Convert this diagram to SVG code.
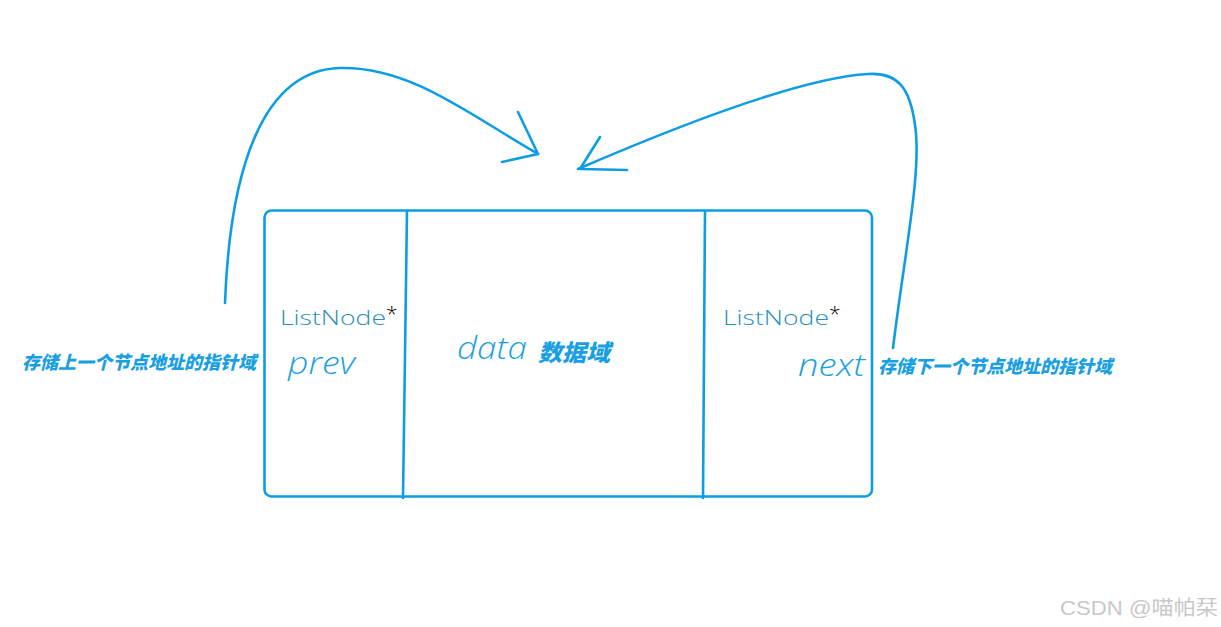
<svg xmlns="http://www.w3.org/2000/svg" width="1221" height="627" viewBox="0 0 1221 627">
<style>
.ln{fill:none;stroke:#0d9de3;stroke-width:2.6;stroke-linecap:round;stroke-linejoin:round}
.typ{font-family:"Open Sans","Liberation Sans",sans-serif;font-weight:300;font-size:21px;fill:#2a90b8}
.star{fill:#000}
.hand{font-family:"Open Sans","Liberation Sans",sans-serif;font-style:italic;font-weight:300;font-size:32px;fill:#1a9fe2}
.cn{font-family:"Noto Sans CJK SC","Liberation Sans",sans-serif;font-style:italic;font-weight:900;font-size:18px;fill:#1a9fe2}
.big{font-size:23px}
.wm{font-family:"Liberation Sans","Noto Sans CJK SC",sans-serif;font-size:20px;fill:#c8c8c8}
</style>
<rect width="1221" height="627" fill="#fff"/>
<g id="node">
<rect x="264.5" y="210.5" width="607.5" height="286" rx="7" class="ln"/>
<line x1="407" y1="211" x2="403" y2="498" class="ln"/>
<line x1="705" y1="211" x2="703" y2="498" class="ln"/>
</g>
<g id="prev-field">
<text x="280" y="325" class="typ" textLength="106" lengthAdjust="spacingAndGlyphs">ListNode</text>
<text x="386" y="321" class="typ star">*</text>
<text x="288" y="374" class="hand" textLength="67" lengthAdjust="spacingAndGlyphs">prev</text>
</g>
<g id="data-field">
<text x="457" y="359" class="hand" textLength="70" lengthAdjust="spacingAndGlyphs">data</text>
<text x="538" y="361" class="cn big" textLength="72" lengthAdjust="spacingAndGlyphs">数据域</text>
</g>
<g id="next-field">
<text x="723" y="325" class="typ" textLength="106" lengthAdjust="spacingAndGlyphs">ListNode</text>
<text x="829" y="321" class="typ star">*</text>
<text x="798" y="376" class="hand" textLength="67" lengthAdjust="spacingAndGlyphs">next</text>
</g>
<g id="label-left">
<text x="22" y="369" class="cn" textLength="234" lengthAdjust="spacingAndGlyphs">存储上一个节点地址的指针域</text>
</g>
<g id="label-right">
<text x="878" y="373" class="cn" textLength="234" lengthAdjust="spacingAndGlyphs">存储下一个节点地址的指针域</text>
</g>
<g id="connectors">
<path class="ln" d="M225,303 C230,170 262,70 340,68 C410,66 470,115 538,154"/>
<path class="ln" d="M518,112 L538,154 L502,162"/>
<path class="ln" d="M893,348 C905,250 922,170 915,125 C910,88 898,72 868,74 C800,78 680,125 578,169"/>
<path class="ln" d="M600,137 L580,169 L627,170"/>
</g>
<text x="1060" y="615" class="wm" textLength="158" lengthAdjust="spacingAndGlyphs">CSDN @喵帕栞</text>
</svg>
